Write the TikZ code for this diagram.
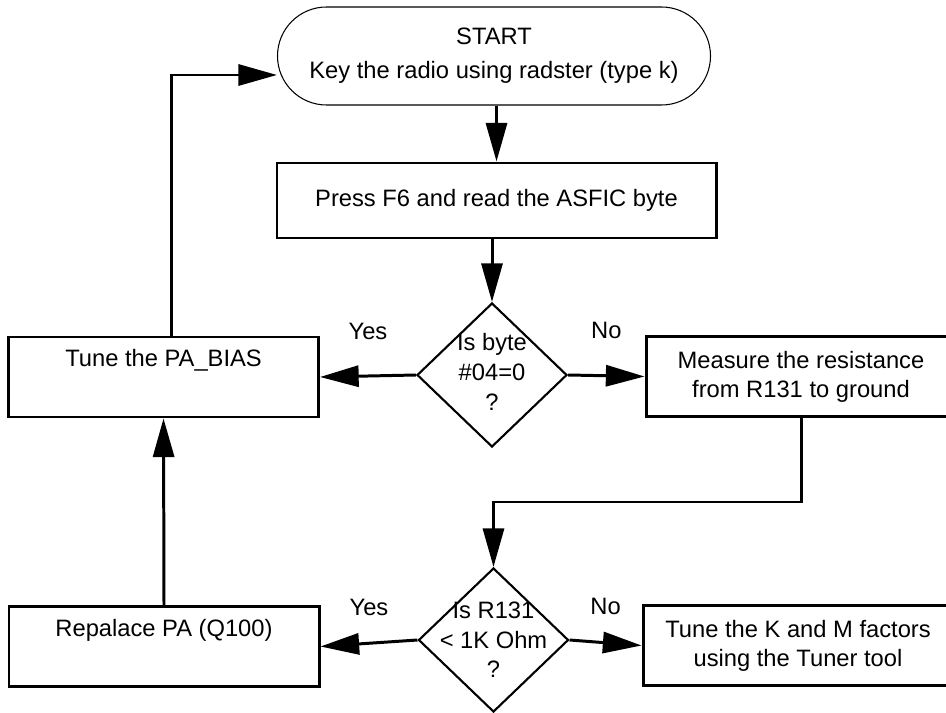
\documentclass[tikz,border=0pt]{standalone}
\usepackage{fontspec}
\setmainfont{Liberation Sans}
\usetikzlibrary{shapes.geometric, arrows.meta}

\newcommand{\qtext}[1]{\raisebox{-0.25em}[0pt][0pt]{\fontsize{13.5}{16.8}\selectfont\begin{tabular}{@{}c@{}}#1\end{tabular}}}

\begin{document}
\begin{tikzpicture}[
    font=\fontsize{13.5}{16.5}\selectfont,
    box/.style={draw, line width=1.7pt, align=center, minimum width=6.2cm, minimum height=1.6cm, inner sep=0pt},
    wide/.style={box, minimum width=8.78cm, minimum height=1.5cm},
    term/.style={draw, line width=0.6pt, rounded corners=0.98cm, align=center, minimum width=8.66cm, minimum height=1.96cm},
    query/.style={diamond, draw, line width=1.2pt, minimum width=3cm, minimum height=2.88cm, inner sep=0pt},
    arr/.style={line width=1.7pt, -{Triangle[length=22pt,width=12pt]}},
    lab/.style={inner sep=0pt}
]
    \useasboundingbox (0,0) rectangle (18.92,-14.24) ;
    \clip (0,0) rectangle (18.92,-14.24) ;

    % top of the chart
    \node[term] (start) at (9.88,-1.12) {START\\[3pt]Key the radio using radster (type k)} ;
    \node[wide] (press) at (9.93,-4.01) {Press F6 and read the ASFIC byte} ;
    \node[query] (d1) at (9.84,-7.5) {\qtext{Is byte\\\#04=0\\?}} ;

    % middle row
    \node[box] (tpa) at (3.27,-7.54) {Tune the PA\_BIAS\\\strut} ;
    \node[box] (meas) at (16.02,-7.53) {Measure the resistance\\from R131 to ground} ;
    \coordinate (jn) at (0,-10.04) ;

    % bottom row
    \node[query] (d2) at (9.87,-12.8) {\raisebox{-0.1cm}{\qtext{Is R131\\< 1K Ohm\\?}}} ;
    \node[box] (rep) at (3.28,-12.93) {Repalace PA (Q100)\\\strut} ;
    \node[box] (tkm) at (15.96,-12.91) {Tune the K and M factors\\using the Tuner tool} ;

    \draw[arr] (press.north |- start.south) -- (press.north) ;
    \draw[arr] (d1.north |- press.south) -- (d1.north) ;
    \draw[arr] (d1.west) -- node[lab, above=20pt] {Yes} (tpa.east) ;
    \draw[arr] (d1.east) -- node[lab, above=20pt] {No} (meas.west) ;
    \draw[arr] (meas.south) -- (meas.south |- jn) -| (d2.north) ;
    \draw[arr] (d2.west) -- node[lab, above=15pt] {Yes} (rep.east) ;
    \draw[arr] (d2.east) -- node[lab, above=15pt] {No} (tkm.west) ;
    \draw[arr] (rep.north) -- (tpa.south) ;
    \draw[arr] ([xshift=0.16cm]tpa.north) |- ([yshift=-0.38cm]start.west) ;

\end{tikzpicture}
\end{document}
